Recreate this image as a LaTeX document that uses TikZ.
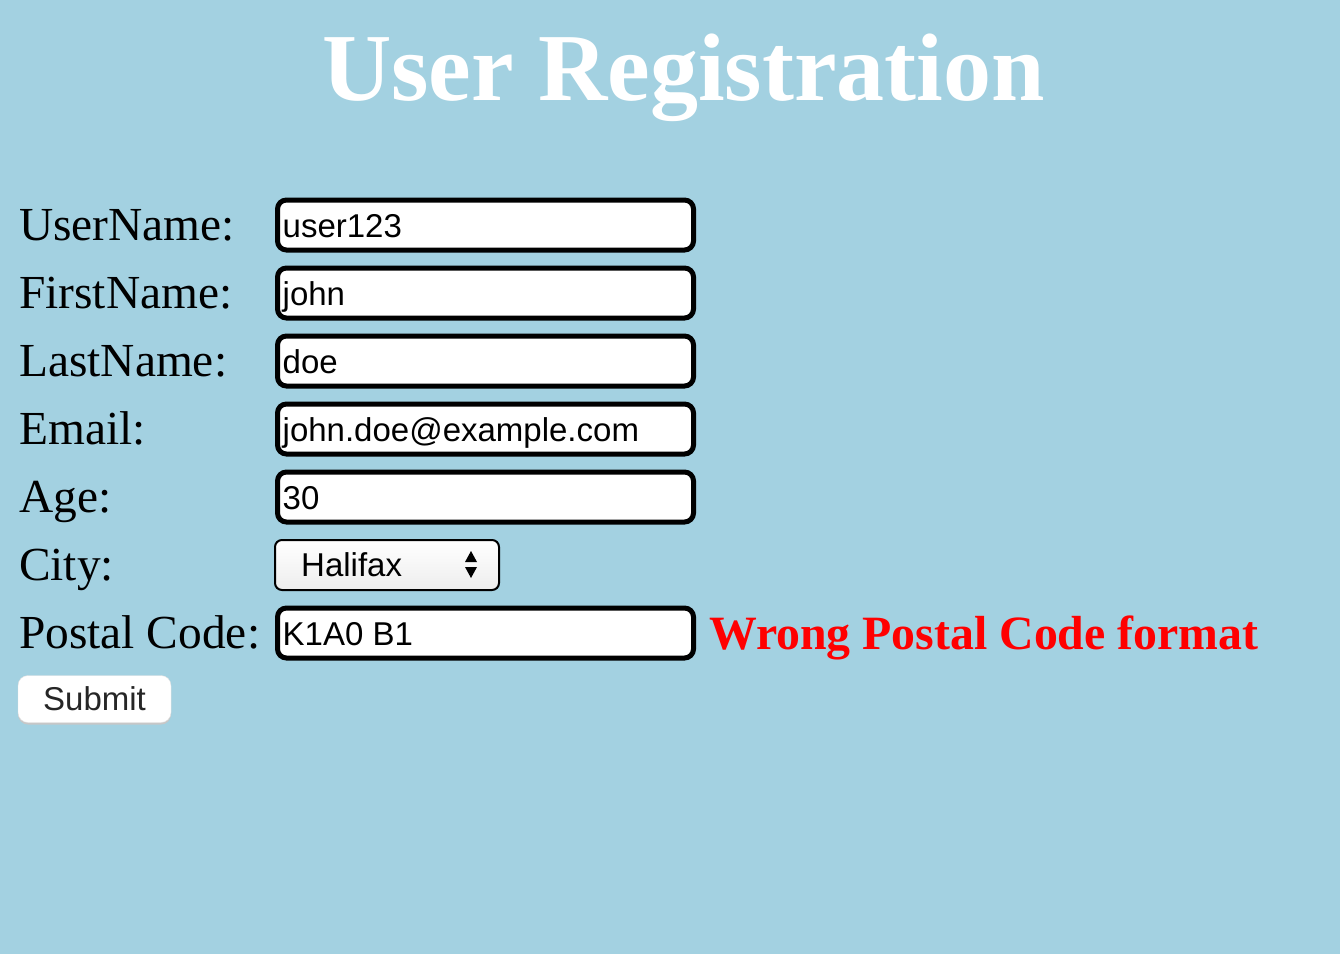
\documentclass[tikz,border=0pt]{standalone}
\usepackage{fontspec}
\setmainfont{Liberation Serif}
\newfontfamily\inpfont{Liberation Sans}
\definecolor{pagebg}{RGB}{163,209,225}
\begin{document}
\begin{tikzpicture}[x=1pt, y=-1pt,
lab/.style={anchor=base west, inner sep=0, font=\fontsize{47.4}{50}\selectfont},
val/.style={anchor=base west, inner sep=0, font=\inpfont\fontsize{33}{35}\selectfont},
inp/.style={draw, line width=5pt, fill=white, rounded corners=9pt, minimum width=416pt, minimum height=50pt, inner sep=0}]
\fill[pagebg] (0,0) rectangle (1340,954);
\node[anchor=base, inner sep=0, text=white, font=\bfseries\fontsize{96}{100}\selectfont] (title) at (683.5,100){User Registration};
\node[lab] (lab0) at (19,240.7){UserName:};
\node[lab] (lab1) at (19,308.7){FirstName:};
\node[lab] (lab2) at (19,376.7){LastName:};
\node[lab] (lab3) at (19,444.7){Email:};
\node[lab] (lab4) at (19,512.7){Age:};
\node[lab] (lab5) at (19,580.7){City:};
\node[lab] (lab6) at (19,648.7){Postal Code:};
\node[inp] (inp0) at (485.5,225){};
\node[val] (val0) at (282.5,237){user123};
\node[inp] (inp1) at (485.5,293){};
\node[val] (val1) at (282.5,305){john};
\node[inp] (inp2) at (485.5,361){};
\node[val] (val2) at (282.5,373){doe};
\node[inp] (inp3) at (485.5,429){};
\node[val] (val3) at (282.5,441){john.doe@example.com};
\node[inp] (inp4) at (485.5,497){};
\node[val] (val4) at (282.5,509){30};
\node[draw, line width=2pt, rounded corners=7pt, top color=white, bottom color=gray!14, minimum width=224pt, minimum height=50pt, inner sep=0] (city) at (387,565){};
\node[val] (val5) at (301,576){Halifax};
\fill[black] (465,562) -- (477,562) -- (471,551) -- cycle;
\fill[black] (465,567) -- (477,567) -- (471,578) -- cycle;
\node[inp] (inp6) at (485.5,633){};
\node[val] (val6) at (282.5,645){K1A0 B1};
\node[lab, text=red, font=\bfseries\fontsize{47.8}{50}\selectfont] (err) at (709,649){Wrong Postal Code format};
\node[fill=black!22, rounded corners=10pt, minimum width=153pt, minimum height=47pt, inner sep=0] (subsh) at (94.5,701){};
\node[draw=black!12, fill=white, rounded corners=10pt, minimum width=153pt, minimum height=47pt, inner sep=0] (sub) at (94.5,699){};
\node[anchor=base, inner sep=0, text=black!85, font=\inpfont\fontsize{33}{35}\selectfont] (subtxt) at (94.5,710){Submit};
\end{tikzpicture}
\end{document}
